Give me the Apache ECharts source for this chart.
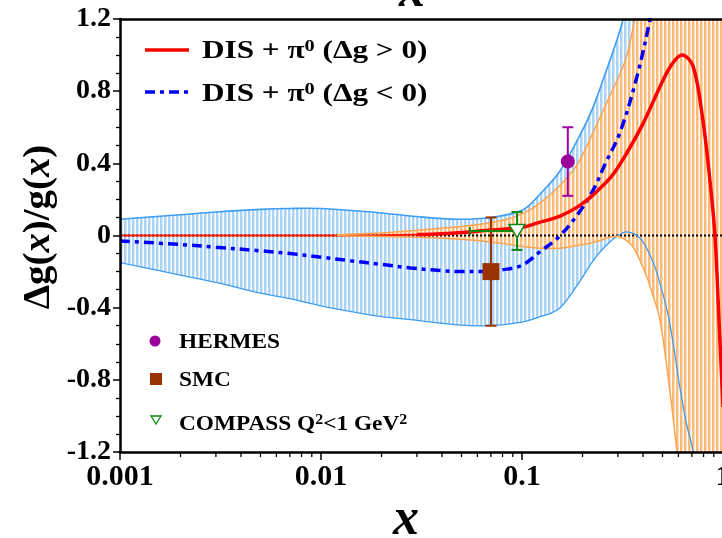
<!DOCTYPE html>
<html>
<head>
<meta charset="utf-8">
<script src="https://cdn.jsdelivr.net/npm/echarts@6/dist/echarts.min.js"></script>
<style>
html, body { margin: 0; padding: 0; background: #fff; }
#chart { width: 722px; height: 538px; }
</style>
</head>
<body>
<div id="chart"></div>
<script>
// ---- Δg(x)/g(x): DIS + π0 fits with uncertainty bands and measurements ----

// Fit with Δg > 0 (solid red)
const redX = [0.001, 0.003, 0.01, 0.02, 0.03, 0.04, 0.055, 0.07, 0.08, 0.1, 0.12, 0.155, 0.19, 0.226, 0.28, 0.333, 0.4, 0.486, 0.55, 0.625, 0.709, 0.794, 0.86, 0.912, 0.955, 1.0];
const redY = [0, 0, 0, 0.002, 0.005, 0.01, 0.02, 0.03, 0.035, 0.045, 0.07, 0.108, 0.16, 0.225, 0.33, 0.46, 0.62, 0.825, 0.94, 1.0, 0.94, 0.64, 0.31, 0.0, -0.47, -0.95];

// Fit with Δg < 0 (blue dash-dot)
const blueX = [0.001, 0.002, 0.003, 0.005, 0.007, 0.01, 0.014, 0.02, 0.028, 0.04, 0.05, 0.065, 0.08, 0.1, 0.123, 0.155, 0.19, 0.2255, 0.26, 0.307, 0.373, 0.434, 0.5];
const blueY = [-0.03, -0.05, -0.065, -0.085, -0.1, -0.12, -0.14, -0.16, -0.18, -0.195, -0.2, -0.2, -0.19, -0.165, -0.09, 0.0, 0.12, 0.25, 0.4, 0.57, 0.88, 1.2, 1.55];

// Uncertainty band of the Δg < 0 fit (light blue)
const blueBandX  = [0.001, 0.002, 0.003, 0.005, 0.007, 0.01, 0.0156, 0.02, 0.03, 0.0475, 0.07, 0.1, 0.123, 0.155, 0.195, 0.2255, 0.26, 0.3, 0.333, 0.387, 0.43, 0.47, 0.54, 0.61, 0.66, 0.71, 0.8, 1.0];
const blueBandHi = [0.09, 0.115, 0.13, 0.145, 0.15, 0.15, 0.135, 0.125, 0.105, 0.09, 0.1, 0.14, 0.23, 0.36, 0.56, 0.71, 0.9, 1.1, 1.28, 1.6, 1.9, 2.2, 2.6, 3.0, 3.3, 3.5, 3.8, 4.0];
const blueBandLo = [-0.15, -0.22, -0.26, -0.32, -0.35, -0.39, -0.43, -0.45, -0.47, -0.495, -0.5, -0.48, -0.45, -0.4, -0.25, -0.14, -0.06, 0.0, 0.02, -0.015, -0.1, -0.21, -0.47, -0.84, -1.05, -1.2, -1.6, -2.5];

// Uncertainty band of the Δg > 0 fit (orange)
const orangeBandX  = [0.012, 0.0156, 0.02, 0.031, 0.055, 0.08, 0.1, 0.123, 0.155, 0.19, 0.2255, 0.27, 0.3, 0.333, 0.364, 0.418, 0.45, 0.486, 0.53, 0.59, 0.65, 1.0];
const orangeBandHi = [0.004, 0.01, 0.014, 0.03, 0.055, 0.085, 0.12, 0.18, 0.28, 0.4, 0.57, 0.76, 0.87, 1.0, 1.2, 1.55, 1.8, 2.1, 2.5, 3.0, 3.5, 4.0];
const orangeBandLo = [-0.002, -0.004, -0.006, -0.01, -0.025, -0.045, -0.06, -0.07, -0.07, -0.055, -0.04, -0.012, -0.005, -0.03, -0.08, -0.23, -0.34, -0.47, -0.76, -1.2, -1.7, -4.0];

// Measurements
const expNames = ['HERMES', 'SMC', 'COMPASS'];
const expX     = [0.169, 0.0701, 0.0944];
const expY     = [0.41, -0.2, 0.025];
const expErrY  = [0.19, 0.3, 0.105];
const expXLow  = [null, null, 0.0551];
const expColor = ['#a000a8', '#993300', '#118811'];

// Axes
const xMinorTicks = [0.002, 0.003, 0.004, 0.005, 0.006, 0.007, 0.008, 0.009,
                     0.02, 0.03, 0.04, 0.05, 0.06, 0.07, 0.08, 0.09,
                     0.2, 0.3, 0.4, 0.5, 0.6, 0.7, 0.8, 0.9];
const yTickLabels = ['-1.2', '-0.8', '-0.4', '0', '0.4', '0.8', '1.2'];
const zeroLineX = [0.001, 1];

const F = '"Liberation Serif", "Times New Roman", serif';
const SMOOTH = 0.35;

// vertical-stripe hatch used to fill the bands
function stripes(color, soft) {
  const c = document.createElement('canvas');
  c.width = 4; c.height = 4;
  const g = c.getContext('2d');
  g.fillStyle = '#ffffff'; g.fillRect(0, 0, 4, 4);
  g.fillStyle = color; g.fillRect(0, 0, 2, 4);
  g.fillStyle = soft; g.fillRect(2, 0, 1, 4);
  return { image: c, repeat: 'repeat' };
}
const zip = (xs, ys) => xs.map((x, i) => [x, ys[i]]);

// Catmull-Rom spline through pixel points, as SVG path commands
function splinePath(pts, start) {
  let d = (start ? 'M' : 'L') + pts[0][0].toFixed(2) + ' ' + pts[0][1].toFixed(2);
  for (let i = 0; i < pts.length - 1; i++) {
    const p0 = pts[i - 1] || pts[i], p1 = pts[i], p2 = pts[i + 1], p3 = pts[i + 2] || pts[i + 1];
    const c1 = [p1[0] + (p2[0] - p0[0]) / 6, p1[1] + (p2[1] - p0[1]) / 6];
    const c2 = [p2[0] - (p3[0] - p1[0]) / 6, p2[1] - (p3[1] - p1[1]) / 6];
    d += ' C' + c1[0].toFixed(2) + ' ' + c1[1].toFixed(2) + ' ' + c2[0].toFixed(2) + ' ' + c2[1].toFixed(2) +
         ' ' + p2[0].toFixed(2) + ' ' + p2[1].toFixed(2);
  }
  return d;
}

// band fill (hatched) between the low and high edges
function bandFill(xs, hi, lo, pattern, z) {
  return { type: 'custom', z: z, silent: true, clip: true, data: [[xs[0], 0]],
    renderItem: function (params, api) {
      const up = xs.map((x, i) => api.coord([x, hi[i]]));
      const dn = xs.map((x, i) => api.coord([x, lo[i]])).reverse();
      const d = splinePath(up, true) + ' ' + splinePath(dn, false) + ' Z';
      return { type: 'path', shape: { pathData: d }, style: { fill: pattern, stroke: null } };
    } };
}
// band outline
function bandEdges(xs, hi, lo, color, wHi, wLo, z) {
  return { type: 'custom', z: z, silent: true, clip: true, data: [[xs[0], 0]],
    renderItem: function (params, api) {
      const up = xs.map((x, i) => api.coord([x, hi[i]]));
      const dn = xs.map((x, i) => api.coord([x, lo[i]]));
      return { type: 'group', children: [
        { type: 'path', shape: { pathData: splinePath(up, true) }, style: { fill: null, stroke: color, lineWidth: wHi } },
        { type: 'path', shape: { pathData: splinePath(dn, true) }, style: { fill: null, stroke: color, lineWidth: wLo } }
      ] };
    } };
}

const chart = echarts.init(document.getElementById('chart'), null, { renderer: 'canvas' });

const series = [
  bandFill(blueBandX, blueBandHi, blueBandLo, stripes('#a9d3f7', '#d6eafb'), 1),
  bandFill(orangeBandX, orangeBandHi, orangeBandLo, stripes('#ffbb7a', '#ffddbd'), 2),
  { type: 'line', data: zeroLineX.map(x => [x, 0]), symbol: 'none',
    lineStyle: { color: '#000', width: 2, type: [2, 2] }, z: 3, silent: true },
  { type: 'line', data: zip(redX, redY), symbol: 'none', smooth: SMOOTH,
    lineStyle: { color: '#ff1a00', width: 2 }, z: 4, silent: true },
  bandEdges(blueBandX, blueBandHi, blueBandLo, '#3d9df2', 1.6, 1.3, 5),
  bandEdges(orangeBandX, orangeBandHi, orangeBandLo, '#ffa552', 1.5, 1.5, 5),
  { type: 'line', data: zip(blueX, blueY), symbol: 'none', smooth: SMOOTH,
    lineStyle: { color: '#0000ff', width: 3.5, type: [10, 5, 4, 5] }, z: 6, silent: true },
  { type: 'line', data: zip(redX, redY).filter(p => p[0] >= 0.03), symbol: 'none', smooth: SMOOTH,
    lineStyle: { color: '#ff0000', width: 3.5 }, z: 7, silent: true },
  { type: 'custom', z: 8, silent: true, clip: false,
    data: expX.map((x, i) => [x, expY[i], expErrY[i], expXLow[i] == null ? x : expXLow[i], i]),
    renderItem: function (params, api) {
      const x = api.value(0), y = api.value(1), e = api.value(2), xl = api.value(3), k = api.value(4);
      const col = expColor[k];
      const t = api.coord([x, y + e]), b = api.coord([x, y - e]);
      const st = { stroke: col, lineWidth: 2 };
      const kids = [
        { type: 'line', shape: { x1: t[0], y1: t[1], x2: b[0], y2: b[1] }, style: st },
        { type: 'line', shape: { x1: t[0] - 5.5, y1: t[1], x2: t[0] + 5.5, y2: t[1] }, style: st },
        { type: 'line', shape: { x1: b[0] - 5.5, y1: b[1], x2: b[0] + 5.5, y2: b[1] }, style: st }
      ];
      if (xl !== x) {
        const l = api.coord([xl, y]), c = api.coord([x, y]);
        kids.push({ type: 'line', shape: { x1: l[0], y1: l[1], x2: c[0], y2: c[1] }, style: st });
        kids.push({ type: 'line', shape: { x1: l[0], y1: l[1] - 4, x2: l[0], y2: l[1] + 4 }, style: st });
      }
      return { type: 'group', children: kids };
    }
  },
  { type: 'scatter', data: [[expX[0], expY[0]]], symbol: 'circle', symbolSize: 14,
    itemStyle: { color: '#9c009c', opacity: 1 }, z: 9, silent: true },
  { type: 'scatter', data: [[expX[1], expY[1]]], symbol: 'rect', symbolSize: 17,
    itemStyle: { color: '#993300', opacity: 1 }, z: 9, silent: true },
  { type: 'scatter', data: [[expX[2], expY[2]]], symbol: 'triangle', symbolRotate: 180, symbolSize: [16, 13],
    itemStyle: { color: '#ffffff', borderColor: '#118811', borderWidth: 1.5, opacity: 1 }, z: 9, silent: true },
  { type: 'custom', z: 10, silent: true, clip: false,
    data: xMinorTicks.map(v => [v, -1.2]),
    renderItem: function (params, api) {
      const p = api.coord([api.value(0), api.value(1)]);
      return { type: 'line', shape: { x1: p[0], y1: p[1], x2: p[0], y2: p[1] + 5 },
               style: { stroke: '#000', lineWidth: 1.3 } };
    }
  }
];

const legendStyle = { fontFamily: F, fontWeight: 'bold', fill: '#000', verticalAlign: 'middle', align: 'left' };
const supRich = { s: { fontFamily: F, fontWeight: 'bold', fontSize: 17, verticalAlign: 'top', fill: '#000' } };
const supRichSmall = { s: { fontFamily: F, fontWeight: 'bold', fontSize: 15, verticalAlign: 'top', fill: '#000' } };

chart.setOption({
  animation: false,
  backgroundColor: '#fff',
  grid: { left: 120, top: 19, width: 603, height: 433, containLabel: false, outerBoundsMode: 'none', show: false },
  xAxis: [
    { type: 'log', logBase: 10, min: 0.001, max: 1, z: 20,
      axisLine: { show: true, onZero: false, lineStyle: { color: '#000', width: 2.5 } },
      axisTick: { show: true, length: 8, lineStyle: { color: '#000', width: 1.5 } },
      minorTick: { show: false },
      splitLine: { show: false },
      axisLabel: { show: true, margin: 10, color: '#000', fontFamily: F, fontWeight: 'bold', fontSize: 30,
                   showMinLabel: true, showMaxLabel: true, hideOverlap: false,
                   formatter: v => String(parseFloat(Number(v).toPrecision(6))) } },
    { type: 'log', logBase: 10, min: 0.001, max: 1, position: 'top', z: 20,
      axisLine: { show: true, onZero: false, lineStyle: { color: '#000', width: 2.5 } },
      axisTick: { show: false }, axisLabel: { show: false }, splitLine: { show: false } }
  ],
  yAxis: [
    { type: 'value', min: -1.2, max: 1.2, interval: 0.4, z: 20,
      axisLine: { show: true, onZero: false, lineStyle: { color: '#000', width: 2.5 } },
      axisTick: { show: true, length: 7, lineStyle: { color: '#000', width: 1.5 } },
      minorTick: { show: true, splitNumber: 4, length: 4, lineStyle: { color: '#000', width: 1.3 } },
      splitLine: { show: false },
      axisLabel: { show: true, margin: 9, color: '#000', fontFamily: F, fontWeight: 'bold', fontSize: 28,
                   showMinLabel: true, showMaxLabel: true, hideOverlap: false,
                   formatter: v => yTickLabels[Math.round((v + 1.2) / 0.4)] } }
  ],
  series: series,
  graphic: [
    // axis titles
    { type: 'text', x: 39, y: 227, rotation: Math.PI / 2, scaleX: 1.05, z: 30,
      style: { text: 'Δg({i|x})/g({i|x})', fontFamily: F, fontWeight: 'bold', fontSize: 37, fill: '#000',
               align: 'center', verticalAlign: 'middle',
               rich: { i: { fontFamily: F, fontWeight: 'bold', fontStyle: 'italic', fontSize: 37, fill: '#000' } } } },
    { type: 'text', x: 406, y: 521, z: 30,
      style: { text: 'x', fontFamily: F, fontWeight: 'bold', fontStyle: 'italic', fontSize: 52, fill: '#000',
               align: 'center', verticalAlign: 'middle' } },
    { type: 'text', x: 412, y: -7, z: 30,
      style: { text: 'x', fontFamily: F, fontWeight: 'bold', fontStyle: 'italic', fontSize: 52, fill: '#000',
               align: 'center', verticalAlign: 'middle' } },
    // fit legend
    { type: 'line', shape: { x1: 145, y1: 50, x2: 189, y2: 50 }, z: 30,
      style: { stroke: '#ff0000', lineWidth: 3.5 } },
    { type: 'text', x: 202, y: 51, scaleX: 1.2, z: 30,
      style: Object.assign({ text: 'DIS + π{s|0} (Δg > 0)', fontSize: 26, rich: supRich }, legendStyle) },
    { type: 'line', shape: { x1: 145, y1: 92, x2: 189, y2: 92 }, z: 30,
      style: { stroke: '#0000ff', lineWidth: 3.5, lineDash: [10, 5, 4, 5] } },
    { type: 'text', x: 202, y: 94, scaleX: 1.2, z: 30,
      style: Object.assign({ text: 'DIS + π{s|0} (Δg < 0)', fontSize: 26, rich: supRich }, legendStyle) },
    // measurement legend
    { type: 'circle', shape: { cx: 155, cy: 341, r: 5.5 }, z: 30, style: { fill: '#9c009c' } },
    { type: 'text', x: 179, y: 342, scaleX: 1.06, z: 30,
      style: Object.assign({ text: expNames[0], fontSize: 22 }, legendStyle) },
    { type: 'rect', shape: { x: 150, y: 373, width: 12, height: 12 }, z: 30, style: { fill: '#993300' } },
    { type: 'text', x: 179, y: 380, scaleX: 1.06, z: 30,
      style: Object.assign({ text: expNames[1], fontSize: 22 }, legendStyle) },
    { type: 'polygon', shape: { points: [[151, 416], [161, 416], [156, 424]] }, z: 30,
      style: { fill: '#fff', stroke: '#118811', lineWidth: 1.3 } },
    { type: 'text', x: 179, y: 424, scaleX: 1.06, z: 30,
      style: Object.assign({ text: expNames[2] + ' Q{s|2}<1 GeV{s|2}', fontSize: 22, rich: supRichSmall }, legendStyle) }
  ]
});
</script>
</body>
</html>
